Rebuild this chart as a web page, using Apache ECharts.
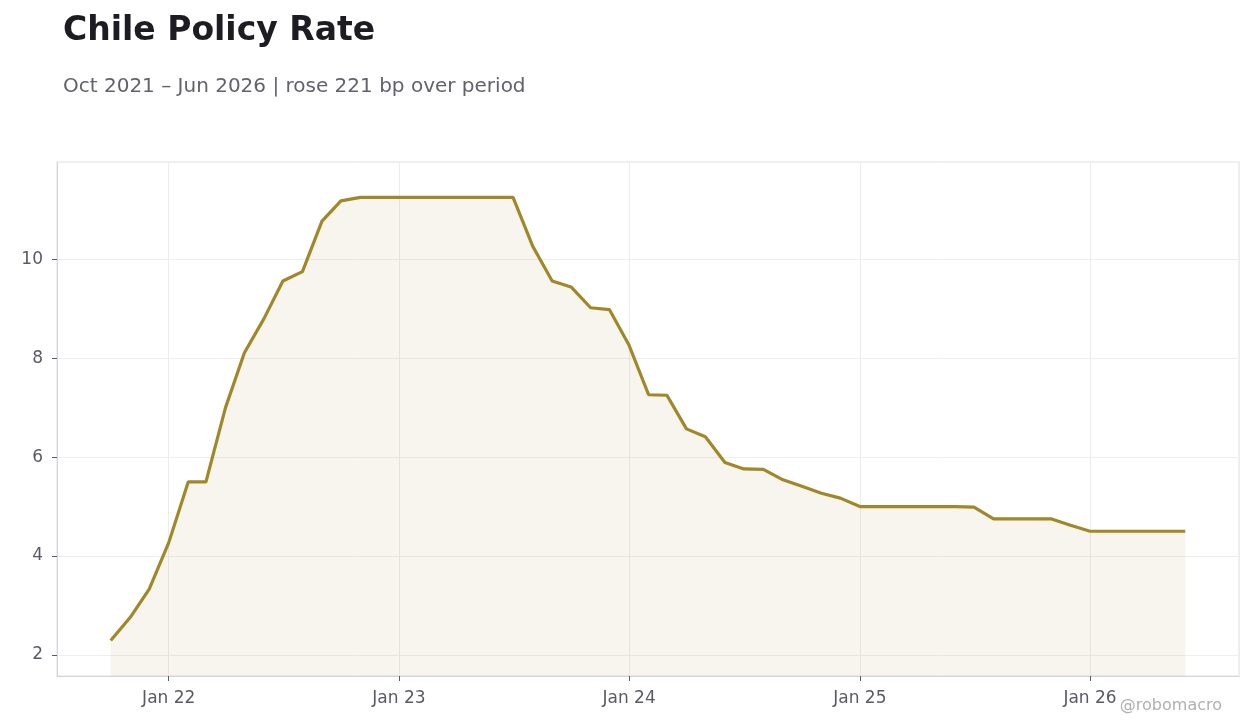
<!DOCTYPE html>
<html>
<head>
<meta charset="utf-8">
<title>Chile Policy Rate</title>
<script src="https://cdn.jsdelivr.net/npm/echarts@6/dist/echarts.min.js"></script>
<style>
  html, body { margin: 0; padding: 0; background: #fff; }
  #chart { width: 1260px; height: 728px; }
</style>
</head>
<body>
<div id="chart"></div>
<script>
// monthly policy rate, Oct 2021 .. Jun 2026
var startYear = 2021;
var startMonth = 9; // October (0-based)
var rateValues = [
    2.29, 2.76, 3.33,
    4.27, 5.5, 5.5, 7.0, 8.11, 8.8, 9.56, 9.75, 10.77, 11.18, 11.25, 11.25,
    11.25, 11.25, 11.25, 11.25, 11.25, 11.25, 11.25, 10.27, 9.56, 9.44, 9.02, 8.98,
    8.26, 7.26, 7.25, 6.57, 6.41, 5.89, 5.76, 5.75, 5.54, 5.41, 5.27, 5.17,
    5.0, 5.0, 5.0, 5.0, 5.0, 5.0, 4.99, 4.75, 4.75, 4.75, 4.75, 4.62,
    4.5, 4.5, 4.5, 4.5, 4.5, 4.5
];
var monthNames = ['Jan', 'Feb', 'Mar', 'Apr', 'May', 'Jun', 'Jul', 'Aug', 'Sep', 'Oct', 'Nov', 'Dec'];
var yTicks = [2, 4, 6, 8, 10];

var seriesData = [];
for (var i = 0; i < rateValues.length; i++) {
    seriesData.push([new Date(startYear, startMonth + i, 1).getTime(), rateValues[i]]);
}

var xFirst = seriesData[0][0];
var xLast = seriesData[seriesData.length - 1][0];
var xPad = (xLast - xFirst) * 0.05;
var yMinData = Math.min.apply(null, rateValues);
var yMaxData = Math.max.apply(null, rateValues);
var yPad = (yMaxData - yMinData) * 0.08;

var chart = echarts.init(document.getElementById('chart'));
var FONT = "'DejaVu Sans', sans-serif";

chart.setOption({
    animation: false,
    backgroundColor: '#ffffff',
    textStyle: { fontFamily: FONT },
    title: [
        {
            text: 'Chile Policy Rate',
            left: 58, top: 10,
            textStyle: { fontFamily: FONT, fontSize: 33, fontWeight: 'bold', color: '#1c1c22' }
        },
        {
            text: 'Oct 2021 \u2013 Jun 2026 | rose 221 bp over period',
            left: 58, top: 72,
            textStyle: { fontFamily: FONT, fontSize: 20, fontWeight: 'normal', color: '#62626c' }
        }
    ],
    graphic: [{
        type: 'text',
        right: 38, top: 698,
        style: { text: '@robomacro', fontFamily: FONT, fontSize: 16, fill: '#b0b0b0' }
    }],
    grid: {
        left: 57, right: 21, top: 162, bottom: 52,
        show: true,
        borderColor: '#e0e0e4',
        borderWidth: 1
    },
    xAxis: {
        type: 'time',
        min: xFirst - xPad,
        max: xLast + xPad,
        minInterval: 365 * 24 * 3600 * 1000,
        axisLine: { show: true, lineStyle: { color: '#d4d4dc' } },
        axisTick: { show: true, length: 5, lineStyle: { color: '#5a5a66' } },
        axisLabel: {
            color: '#5a5a66', fontSize: 17, margin: 14,
            formatter: function (val) {
                var d = new Date(val);
                return monthNames[d.getMonth()] + ' ' + String(d.getFullYear()).slice(2);
            }
        },
        splitLine: { show: true, lineStyle: { color: '#ececec' } }
    },
    yAxis: {
        type: 'value',
        min: yMinData - yPad,
        max: yMaxData + yPad,
        axisLine: { show: true, lineStyle: { color: '#d4d4dc' } },
        axisTick: { show: true, length: 5, customValues: yTicks, lineStyle: { color: '#5a5a66' } },
        axisLabel: {
            color: '#5a5a66', fontSize: 17, margin: 14,
            customValues: yTicks
        },
        splitLine: { show: true, lineStyle: { color: '#eeeeee' } },
        splitNumber: 5
    },
    series: [{
        type: 'line',
        data: seriesData,
        showSymbol: false,
        lineStyle: { color: '#a08828', width: 3.2 },
        itemStyle: { color: '#a08828' },
        areaStyle: { color: 'rgba(160,136,60,0.085)', opacity: 1, origin: 'start' }
    }]
});
</script>
</body>
</html>
